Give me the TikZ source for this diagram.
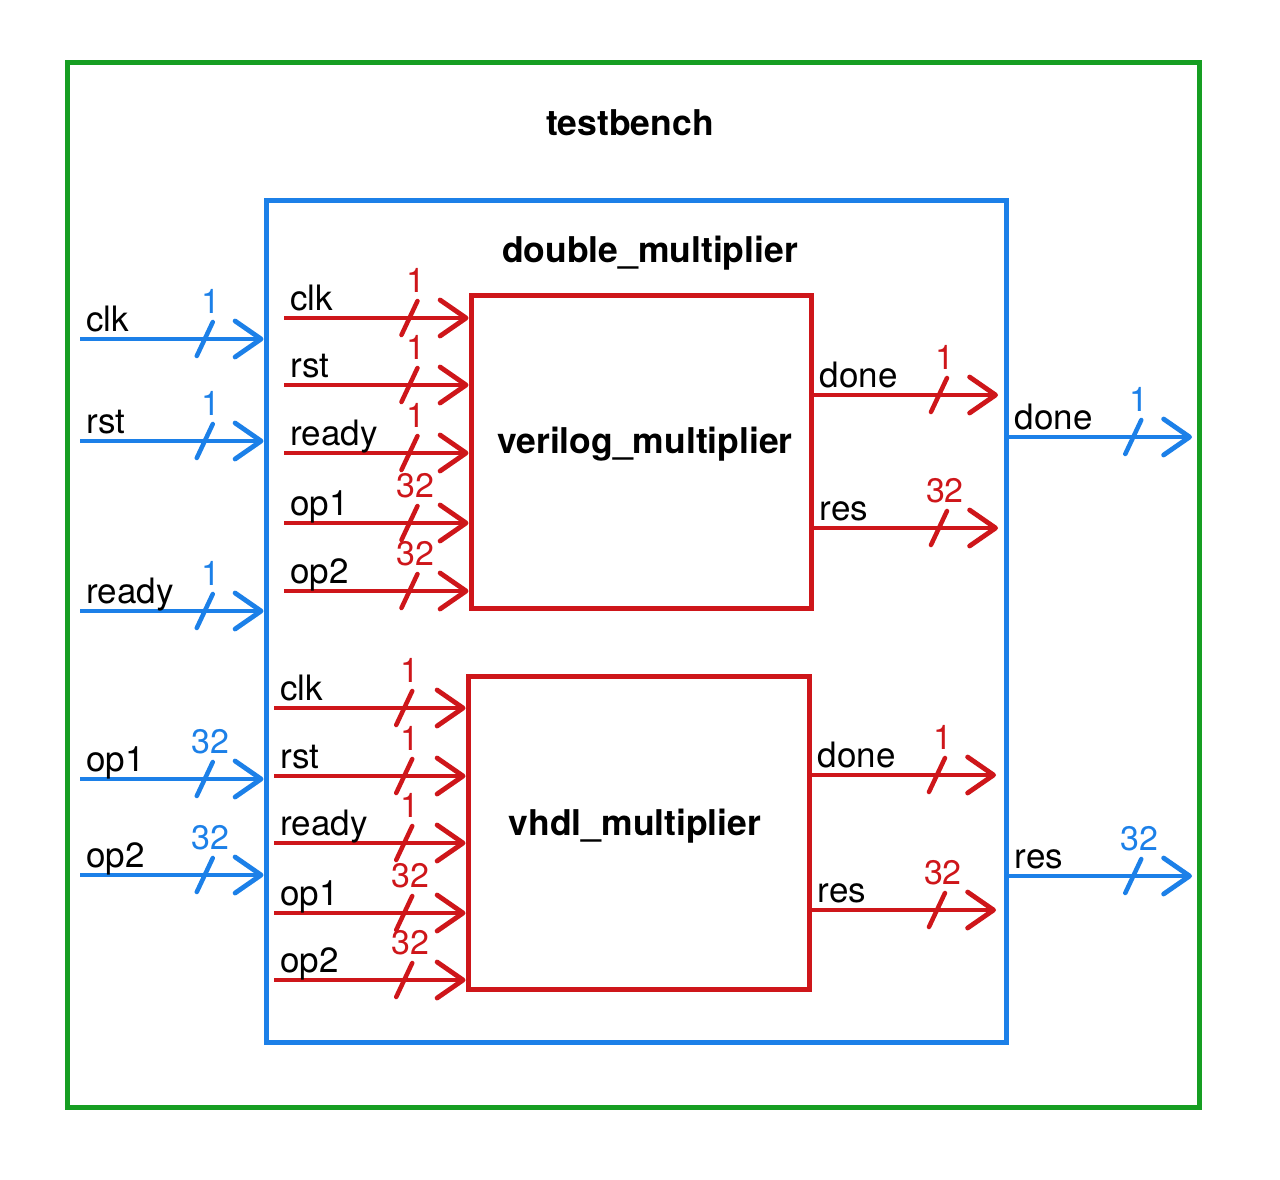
\documentclass[tikz,border=0pt]{standalone}
\usepackage{fontspec}
\setmainfont{TeX Gyre Heros}
\usetikzlibrary{arrows.meta,decorations.markings}
\definecolor{tbgreen}{RGB}{22,158,34}
\definecolor{tbblue}{RGB}{28,128,232}
\definecolor{tbred}{RGB}{206,22,26}
\tikzset{
  lbl/.style={font=\fontsize{35}{42}\selectfont, text=black, inner sep=0pt},
  title/.style={font=\bfseries\fontsize{35.5}{42}\selectfont, inner sep=0pt},
  frame/.style={draw=#1, line width=5pt, rectangle, inner sep=0pt},
  bus/.style 2 args={postaction={decorate, decoration={markings, mark=at position 0.68 with {\draw[draw=#1, line width=4.5pt, line cap=round, -] (-8pt,-17pt) -- (8pt,17pt); \node[text=#1, font=\fontsize{34}{40}\selectfont, inner sep=0pt, anchor=base] at (6pt,26pt) {#2};}}}},
  wire/.style={line width=4.8pt, -{Straight Barb[length=26pt,width=36pt,line width=4.8pt,round]}},
  bwire/.style={wire, draw=tbblue, bus={tbblue}{#1}},
  rwire/.style={wire, draw=tbred, bus={tbred}{#1}},
  inlbl/.style={lbl, pos=0, anchor=base west, xshift=4pt, yshift=8pt},
}
\begin{document}
\begin{tikzpicture}[x=1pt,y=-1pt]
\useasboundingbox (0,0) rectangle (1280,1179);
% frames
\node[frame=tbgreen, minimum width=1132pt, minimum height=1045pt] (tb) at (633,584.5) {};
\node[title] (tbt) at (630,123) {testbench};
\node[frame=tbblue, minimum width=740pt, minimum height=842pt] (dm) at (636,621) {};
\node[title] (dmt) at (650,253) {double\_multiplier};
\node[frame=tbred, minimum width=340pt, minimum height=313pt] (vm) at (641,451.5) {};
\node[title] (vmt) at (645,444) {verilog\_multiplier};
\node[frame=tbred, minimum width=341pt, minimum height=313pt] (hm) at (638.5,832.5) {};
\node[title] (hmt) at (635,826) {vhdl\_multiplier};
% testbench inputs
\coordinate (iclk) at (80,339);
\coordinate (irst) at (80,441);
\coordinate (irdy) at (80,611);
\coordinate (iop1) at (80,779);
\coordinate (iop2) at (80,875);
\draw[bwire=1] (iclk) -- (iclk -| dm.west) node[inlbl] {clk};
\draw[bwire=1] (irst) -- (irst -| dm.west) node[inlbl] {rst};
\draw[bwire=1] (irdy) -- (irdy -| dm.west) node[inlbl] {ready};
\draw[bwire=32] (iop1) -- (iop1 -| dm.west) node[inlbl] {op1};
\draw[bwire=32] (iop2) -- (iop2 -| dm.west) node[inlbl] {op2};
% testbench outputs
\coordinate (odone) at (1192,437);
\coordinate (ores) at (1192,876);
\draw[bwire=1] (odone -| dm.east) -- (odone) node[inlbl] {done};
\draw[bwire=32] (ores -| dm.east) -- (ores) node[inlbl] {res};
% verilog inputs
\coordinate (vclk) at (284,318);
\coordinate (vrst) at (284,385);
\coordinate (vrdy) at (284,453);
\coordinate (vop1) at (284,523);
\coordinate (vop2) at (284,591);
\draw[rwire=1] (vclk) -- (vclk -| vm.west) node[inlbl] {clk};
\draw[rwire=1] (vrst) -- (vrst -| vm.west) node[inlbl] {rst};
\draw[rwire=1] (vrdy) -- (vrdy -| vm.west) node[inlbl] {ready};
\draw[rwire=32] (vop1) -- (vop1 -| vm.west) node[inlbl] {op1};
\draw[rwire=32] (vop2) -- (vop2 -| vm.west) node[inlbl] {op2};
% verilog outputs
\coordinate (vdone) at (998,395);
\coordinate (vres) at (998,528);
\draw[rwire=1] (vdone -| vm.east) -- (vdone) node[inlbl] {done};
\draw[rwire=32] (vres -| vm.east) -- (vres) node[inlbl] {res};
% vhdl inputs
\coordinate (hclk) at (274,708);
\coordinate (hrst) at (274,776);
\coordinate (hrdy) at (274,843);
\coordinate (hop1) at (274,913);
\coordinate (hop2) at (274,980);
\draw[rwire=1] (hclk) -- (hclk -| hm.west) node[inlbl] {clk};
\draw[rwire=1] (hrst) -- (hrst -| hm.west) node[inlbl] {rst};
\draw[rwire=1] (hrdy) -- (hrdy -| hm.west) node[inlbl] {ready};
\draw[rwire=32] (hop1) -- (hop1 -| hm.west) node[inlbl] {op1};
\draw[rwire=32] (hop2) -- (hop2 -| hm.west) node[inlbl] {op2};
% vhdl outputs
\coordinate (hdone) at (996,775);
\coordinate (hres) at (996,910);
\draw[rwire=1] (hdone -| hm.east) -- (hdone) node[inlbl] {done};
\draw[rwire=32] (hres -| hm.east) -- (hres) node[inlbl] {res};
\end{tikzpicture}
\end{document}
